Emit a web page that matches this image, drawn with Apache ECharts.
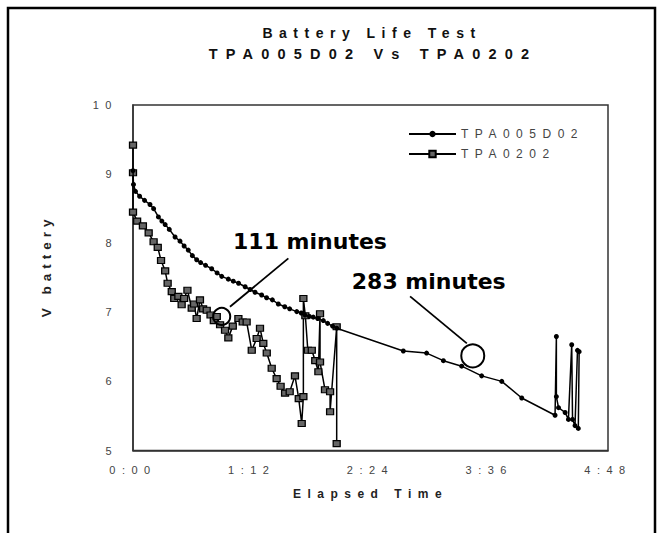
<!DOCTYPE html>
<html><head><meta charset="utf-8">
<script src="https://cdn.jsdelivr.net/npm/echarts@6/dist/echarts.min.js"></script>
<style>
html,body{margin:0;padding:0;background:#fff;}
#chart{width:664px;height:533px;}
#chart text{letter-spacing:6.5px;}
#chart text[style*="14.5px"]{letter-spacing:8.2px;}
#chart text[style*="13.5px"]{letter-spacing:5px;}
#chart text[style*="DejaVu"]{letter-spacing:0;}
</style></head><body><div id="chart"></div>
<script>
// ---- data ----
const tickLabels = ['0:00', '1:12', '2:24', '3:36', '4:48'];
const seriesNames = ['TPA005D02', 'TPA0202'];
const titleLines = ['Battery Life Test', 'TPA005D02 Vs TPA0202'];

// TPA005D02 : elapsed minutes / volts
const timeA = [0, 0.3, 1.5, 4, 7, 10.3, 12.5, 15.4, 17.5, 19.5, 22, 25.5, 28.5, 31, 33.5, 36, 38.6, 41, 44, 47.7,
  51, 53.8, 57.8, 60.8, 64, 68, 71, 74, 78, 81, 84.5, 88.1, 92, 95, 99.3, 102, 104.3, 107, 109.3, 112,
  115.4, 118, 121, 123.5, 163.9, 178, 188.2, 199.3, 211.4, 223.6, 235.7, 255.9, 256.7, 256.7, 258, 262, 264, 266, 266.5, 268,
  269.5, 270.5, 270];
const voltA = [9.05, 8.85, 8.75, 8.68, 8.62, 8.56, 8.5, 8.38, 8.32, 8.27, 8.2, 8.09, 8.03, 7.96, 7.9, 7.82, 7.76, 7.72, 7.68, 7.63,
  7.57, 7.52, 7.48, 7.45, 7.42, 7.37, 7.33, 7.29, 7.25, 7.21, 7.18, 7.12, 7.08, 7.05, 7.01, 6.99, 6.96, 6.94, 6.93, 6.91,
  6.88, 6.84, 6.8, 6.77, 6.44, 6.41, 6.3, 6.22, 6.08, 6.0, 5.76, 5.51, 6.65, 5.78, 5.62, 5.55, 5.45, 6.53, 5.45, 5.36,
  6.45, 6.43, 5.32];

// TPA0202 : elapsed minutes / volts
const timeB = [0, 0, 0, 2.5, 6, 9.5, 12.5, 15, 17, 19.5, 21, 23.5, 25, 27.5, 29.5, 31, 33, 35.6, 37, 38.6,
  40.6, 42.5, 44.7, 47, 49, 50.8, 52.8, 55.8, 57.8, 60.5, 63.9, 66.5, 68.9, 72, 75, 77, 79, 81.1, 84.1, 87.1,
  89.5, 92.2, 95, 98.2, 100.5, 102.3, 103.3, 103.3, 104.5, 106, 108.4, 110.5, 112.4, 113.4, 113.4, 116.4, 119.5, 119.5, 123.5, 123.5];
const voltB = [9.42, 9.02, 8.45, 8.32, 8.25, 8.15, 8.02, 7.94, 7.75, 7.6, 7.42, 7.3, 7.2, 7.23, 7.11, 7.2, 7.32, 7.06, 7.12, 6.91,
  7.18, 7.05, 7.03, 6.96, 6.88, 6.94, 6.82, 6.74, 6.63, 6.8, 6.91, 6.86, 6.86, 6.45, 6.62, 6.77, 6.55, 6.41, 6.19, 6.04,
  5.93, 5.83, 5.85, 6.08, 5.75, 5.39, 5.78, 7.2, 6.95, 6.45, 6.45, 6.3, 6.14, 6.98, 6.28, 5.88, 5.85, 5.56, 6.79, 5.1];

// annotations (data coordinates)
const noteTexts = ['111 minutes', '283 minutes'];
const noteTextAt = [[107.3, 8.02], [179.3, 7.44]];
const noteCircleAt = [[53.8, 6.94], [206, 6.37]];
const noteLineFrom = [[94.2, 7.78], [168, 7.23]];
const noteLineTo = [[58.8, 7.08], [202.4, 6.55]];

// ---- chart ----
const FONT = '"Liberation Sans", Arial, sans-serif';
const pairs = (t, v) => t.map((x, i) => [x, v[i]]);
const chart = echarts.init(document.getElementById('chart'), null, {renderer: 'svg'});

const option = {
  animation: false,
  backgroundColor: '#fff',
  textStyle: {fontFamily: FONT},
  graphic: [
    {type: 'polyline', silent: true, shape: {points: [[8, 540], [8, 8], [655, 8], [655, 540]]},
     style: {stroke: '#000', fill: null, lineWidth: 2.5}},
    {type: 'text', x: 372, y: 33, style: {text: titleLines[0], fontFamily: FONT, fontWeight: 'bold', fontSize: 14,
      fill: '#111', textAlign: 'center', textVerticalAlign: 'middle'}},
    {type: 'text', x: 373, y: 54, style: {text: titleLines[1], fontFamily: FONT, fontWeight: 'bold', fontSize: 14.5,
      fill: '#111', textAlign: 'center', textVerticalAlign: 'middle'}}
  ],
  grid: {left: 133, right: 56, top: 105, bottom: 82.5, show: true, borderColor: '#333', borderWidth: 1.5,
    backgroundColor: 'transparent'},
  legend: {
    data: seriesNames, orient: 'vertical', left: 403, top: 123, itemWidth: 47, itemHeight: 8, itemGap: 8,
    textStyle: {fontSize: 12, color: '#444', fontFamily: FONT}
  },
  xAxis: {
    type: 'value', min: 0, max: 288, interval: 72,
    axisLine: {show: true, lineStyle: {color: '#333', width: 1.5}},
    axisTick: {show: false}, splitLine: {show: false},
    axisLabel: {formatter: v => tickLabels[Math.round(v / 72)], color: '#444', fontSize: 11, margin: 14},
    name: 'Elapsed Time', nameLocation: 'middle', nameGap: 37,
    nameTextStyle: {fontWeight: 'bold', fontSize: 12, color: '#222'}
  },
  yAxis: {
    type: 'value', min: 5, max: 10, interval: 1,
    axisLine: {show: true, lineStyle: {color: '#333', width: 1.5}},
    axisTick: {show: false}, splitLine: {show: false},
    axisLabel: {color: '#444', fontSize: 11, margin: 15},
    name: 'V battery', nameLocation: 'middle', nameGap: 80, nameRotate: 90,
    nameTextStyle: {fontWeight: 'bold', fontSize: 13.5, color: '#222', padding: [0, 0, 0, 24]}
  },
  series: [
    {
      name: seriesNames[0], type: 'line', data: pairs(timeA, voltA),
      symbol: 'circle', symbolSize: 5, z: 3,
      itemStyle: {color: '#000'}, lineStyle: {color: '#000', width: 1.5},
      markLine: {
        silent: true, symbol: ['none', 'none'], label: {show: false},
        lineStyle: {color: '#000', width: 1.8, type: 'solid'},
        data: noteLineFrom.map((p, i) => [{coord: p}, {coord: noteLineTo[i]}])
      },
      markPoint: {
        silent: true,
        data: noteCircleAt.map((p, i) => ({
          coord: p, symbol: 'circle', symbolSize: i === 0 ? 17 : 23,
          itemStyle: {color: i === 0 ? 'rgba(255,255,255,0)' : '#fff', borderColor: '#000', borderWidth: 2},
          label: {show: false}
        })).concat(noteTextAt.map((p, i) => ({
          coord: p, symbol: 'rect', symbolSize: 1,
          itemStyle: {color: 'rgba(0,0,0,0)', borderWidth: 0},
          label: {show: true, position: 'inside', formatter: noteTexts[i], color: '#000',
            fontFamily: '"DejaVu Sans"', fontWeight: 'bold', fontSize: 22}
        })))
      }
    },
    {
      name: seriesNames[1], type: 'line', data: pairs(timeB, voltB),
      symbol: 'rect', symbolSize: [7, 6], z: 2,
      itemStyle: {color: '#666', borderColor: '#000', borderWidth: 1.2},
      lineStyle: {color: '#000', width: 1.5}
    }
  ]
};
chart.setOption(option);
</script></body></html>
